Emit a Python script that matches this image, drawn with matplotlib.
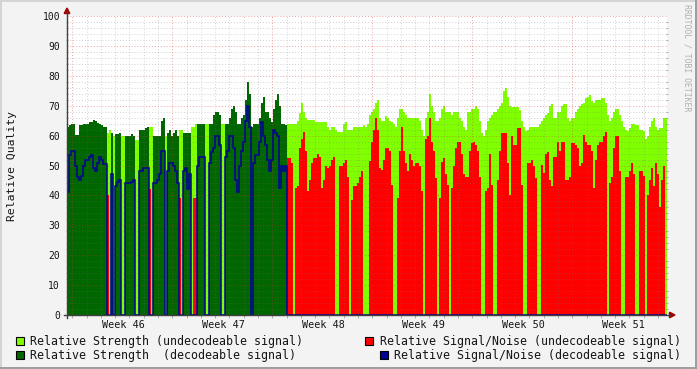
import numpy as np
import matplotlib.pyplot as plt
from matplotlib.patches import Rectangle, Polygon
from matplotlib.lines import Line2D

W, H = 697, 369
dpi = 100
mono = 'DejaVu Sans Mono'

# one sample every 2 px of the rrd graph = 0.14 day
step = 0.14
week_start = 0.37          # first week boundary, days after first sample
weeks = ['Week 46', 'Week 47', 'Week 48', 'Week 49', 'Week 50', 'Week 51']

strength = [
    63, 63.6, 64, 64, 60.3, 60.3, 63.6, 63.6, 64, 64,
    64, 64.5, 64.7, 65.3, 65, 64.2, 64, 63.5, 63, 63,
    61, 62, 61, 60, 60.5, 60.5, 61, 59.7, 59.7, 60,
    60, 60, 60.5, 60, 58.6, 58.6, 62, 62, 62, 62.5,
    63, 63, 63, 60, 60, 60, 60, 65, 66, 60,
    61, 62, 60, 61, 62, 60, 62, 62, 61, 61,
    61, 61, 63, 63, 64, 64, 64, 64, 64, 64,
    64, 64, 64, 67, 68, 68, 67, 64, 64, 64,
    64, 66, 69, 70, 68, 64, 64, 66, 67, 72,
    78, 74, 63, 64, 64, 64, 66, 71, 73, 68,
    68, 66, 64.7, 69, 72, 74, 70, 64, 64, 63.6,
    64, 64, 64, 64, 64, 65, 67.5, 70.8, 68, 66,
    65.3, 65.3, 65.3, 65.3, 64.7, 64.7, 64.7, 64.7, 64.7, 64.5,
    63, 62, 63, 63, 62, 61.3, 61.3, 61.3, 64, 64.7,
    62, 62, 62, 63, 63, 63, 63, 63, 63.5, 63,
    64, 67, 68, 69, 71, 72, 66, 65, 65, 66.5,
    66, 65, 64.5, 64, 63, 66, 69, 69, 68, 67,
    66, 66, 66, 66, 66, 66, 65, 62, 60, 66,
    68, 74, 70, 68, 65, 65, 66, 69, 70, 68,
    68, 68, 67, 68, 68, 68, 66, 65, 63, 62,
    68, 68, 69, 69, 70, 69, 65, 61, 60, 62,
    65, 66, 67, 68, 68, 69, 70, 71, 75, 76,
    73, 70, 69.5, 69.5, 69.5, 69.5, 68.5, 65, 63, 61.5,
    62, 63, 63, 63, 63, 63, 64, 65, 66, 67,
    67.5, 70, 70.5, 66, 66, 68, 68, 70, 70.5, 70.5,
    66, 65, 66, 66, 68, 69, 70, 70.5, 71, 72.5,
    73, 73.5, 71.5, 71, 72, 72, 72, 72.5, 72.5, 71,
    67, 65, 66, 68, 69, 69, 67, 65, 63, 62,
    61.5, 62.5, 64, 64, 63.5, 63.5, 62, 62, 61.5, 59,
    60, 63, 65, 66, 63, 62, 62.5, 62.5, 66, 66,
]

snr = [
    41, 53.5, 55, 55, 50, 46, 45, 46.5, 50, 52,
    52, 53, 53.5, 49, 48, 51, 53, 52, 50.5, 50.5,
    40, 0, 47, 0, 43, 44.5, 45, 0, 0, 44,
    44, 44, 44.5, 45, 0, 0, 48, 48, 49, 49,
    49, 42, 0, 44, 44, 45, 47, 55, 55, 0,
    48, 51, 51, 50, 48, 44, 39, 0, 48, 49,
    42, 47, 0, 39, 39, 50, 53, 53, 53, 0,
    0, 51, 54.5, 56, 59.7, 60, 57, 0, 0, 53,
    55, 59.7, 60, 56, 45, 41, 50, 55, 58, 65,
    70, 63, 0, 50.7, 53.5, 53.5, 58, 64.7, 60, 57,
    52, 48, 52, 62, 61, 60, 42.5, 50, 48, 50,
    52.5, 52.5, 51, 0, 42.5, 43, 56, 59, 61.3, 55,
    41.5, 45, 50.8, 52.5, 52.5, 54, 53, 42.5, 45, 50,
    49, 50, 52, 53, 0, 0, 50, 50, 51, 52,
    46, 0, 38.5, 43, 43, 44, 46, 48, 0, 0,
    0, 51.5, 58, 62, 66, 62, 49, 48.6, 52, 55.8,
    55.8, 55, 43.5, 0, 0, 39, 55, 63, 55, 51,
    48, 54, 52, 50, 51, 51, 50, 41.5, 0, 59,
    59.7, 66, 58, 54.7, 45.7, 0, 39, 51.3, 52.5, 47,
    43.5, 0, 42.5, 50, 55.8, 58, 58, 54, 47, 46,
    46, 55, 57.5, 58, 57, 55, 46, 0, 0, 41.5,
    42.5, 54, 43.5, 0, 0, 45, 55, 60.8, 61, 61,
    51, 40, 60, 57, 57, 62.5, 62.5, 43.5, 0, 0,
    50.8, 51, 52, 50, 45.7, 0, 0, 50.3, 47.5, 54,
    54.5, 45, 43, 53, 53, 58, 55, 58, 58, 45,
    45, 46, 57.5, 57.5, 57, 56, 50, 51, 60.3, 58,
    57, 57, 55, 42.5, 52, 57, 58, 58, 60, 61.3,
    0, 44, 46, 56, 59.7, 59.7, 48, 0, 0, 46.3,
    46.3, 48, 50.8, 47, 0, 0, 48, 48, 46.5, 0,
    40, 45, 49, 43, 51, 47, 36, 45, 50, 0,
]

# 1 = signal decodeable for that sample
decoded = [
    1, 1, 1, 1, 1, 1, 1, 1, 1, 1, 1, 1, 1, 1, 1, 1, 1, 1, 1, 1, 0, 0, 1, 0, 1,
    1, 1, 0, 0, 1, 1, 1, 1, 1, 0, 0, 1, 1, 1, 1, 1, 0, 0, 1, 1, 1, 1, 1, 1, 0,
    1, 1, 1, 1, 1, 1, 0, 0, 1, 1, 1, 1, 0, 0, 0, 1, 1, 1, 1, 0, 0, 1, 1, 1, 1,
    1, 1, 0, 0, 1, 1, 1, 1, 1, 1, 1, 1, 1, 1, 1, 1, 1, 1, 1, 1, 1, 1, 1, 1, 1,
    1, 1, 1, 1, 1, 1, 1, 1, 1, 1, 0, 0, 0, 0, 0, 0, 0, 0, 0, 0, 0, 0, 0, 0, 0,
    0, 0, 0, 0, 0, 0, 0, 0, 0, 0, 0, 0, 0, 0, 0, 0, 0, 0, 0, 0, 0, 0, 0, 0, 0,
] + [0] * 150

labels = ['Relative Strength (undecodeable signal)',
          'Relative Strength  (decodeable signal)',
          'Relative Signal/Noise (undecodeable signal)',
          'Relative Signal/Noise (decodeable signal)']

lime, dkgreen, red, blue = '#80ff00', '#006600', '#ff0000', '#000099'


def fx(x):
    return x / W


def fy(y):
    return 1 - y / H


fig = plt.figure(figsize=(W / dpi, H / dpi), dpi=dpi, facecolor='#f3f3f3')
ax = fig.add_axes([fx(67), fy(315), 600 / W, 299 / H])
ax.set_facecolor('white')

s = np.array(strength)
n = np.array(snr)
d = np.array(decoded, dtype=bool)
edges = np.arange(len(s) + 1) * step

ax.stairs(np.where(d, 0, s), edges, fill=True, color=lime, lw=0, zorder=1)
ax.stairs(np.where(d, 0, n), edges, fill=True, color=red, lw=0, zorder=2)
ax.stairs(np.where(d, s, 0), edges, fill=True, color=dkgreen, lw=0, zorder=3)

# rrdtool style dotted grid, drawn over the areas
minor_c = (0.45, 0.45, 0.45, 0.32)
major_c = (0.85, 0.2, 0.2, 0.45)
for v in range(2, 101, 2):
    ax.axhline(v, color=major_c if v % 10 == 0 else minor_c,
               ls=(0, (1, 2)), lw=0.7, zorder=4)
days = week_start + np.arange(0, 42)
for k, x in enumerate(days):
    ax.axvline(x, color=major_c if k % 7 == 0 else minor_c,
               ls=(0, (1, 2)), lw=0.7, zorder=4)

ax.stairs(np.where(d, n, 0), edges, baseline=None, color=blue, lw=1.1,
          zorder=5, clip_on=False)

ax.set_xlim(0, len(s) * step)
ax.set_ylim(0, 100)
for sp in ax.spines.values():
    sp.set_visible(False)

ax.set_yticks(range(0, 101, 10))
ax.set_yticks(range(0, 101, 2), minor=True)
ax.tick_params(axis='y', which='major', length=0, pad=5, labelsize=7,
               labelfontfamily=mono, labelcolor='#151515')
ax.tick_params(axis='y', which='minor', left=True, right=True, length=2,
               width=0.6, color='#a0a0a0', direction='inout')
ax.set_xticks([week_start + 3.55 + 7 * k for k in range(len(weeks))], weeks)
ax.set_xticks(days, minor=True)
ax.tick_params(axis='x', which='major', length=0, pad=3.5, labelsize=7.3,
               labelfontfamily=mono, labelcolor='#151515')
ax.tick_params(axis='x', which='minor', length=2, width=0.6, color='#a0a0a0')

# axis lines and arrows
axis_c, arrow_c = '#404040', '#a00000'
fig.add_artist(Line2D([fx(67), fx(67)], [fy(318), fy(11)], color=axis_c, lw=1))
fig.add_artist(Line2D([fx(64), fx(670)], [fy(315), fy(315)], color=axis_c, lw=1))
fig.add_artist(Polygon([(fx(67), fy(8)), (fx(64.2), fy(13.5)), (fx(69.8), fy(13.5))],
                       closed=True, color=arrow_c, transform=fig.transFigure))
fig.add_artist(Polygon([(fx(675), fy(315)), (fx(669.5), fy(312.2)), (fx(669.5), fy(317.8))],
                       closed=True, color=arrow_c, transform=fig.transFigure))

fig.text(fx(12), fy(166), 'Relative Quality', rotation=90, ha='center',
         va='center', fontsize=8.2, family=mono, color='#151515')
fig.text(fx(687.5), fy(4), 'RRDTOOL / TOBI OETIKER', rotation=270, ha='center',
         va='top', fontsize=5.9, family=mono, color='#b0b0b0')

# legend, laid out like rrdtool's
legend_pos = [(15.5, 341), (15.5, 355), (365, 341), (379.5, 355)]
for (lx, ly), lab, c in zip(legend_pos, labels, [lime, dkgreen, red, blue]):
    fig.add_artist(Rectangle((fx(lx), fy(ly + 4)), 8 / W, 8 / H, facecolor=c,
                             edgecolor='black', lw=0.8, transform=fig.transFigure))
    fig.text(fx(lx + 14.5), fy(ly), lab, ha='left', va='center', fontsize=8.35,
             family=mono, color='#151515')

# bevelled frame
fig.add_artist(Rectangle((0, fy(1.5)), 1, 1.5 / H, color='#d4d4d4', lw=0,
                         transform=fig.transFigure))
fig.add_artist(Rectangle((0, 0), 1.5 / W, 1, color='#d4d4d4', lw=0,
                         transform=fig.transFigure))
fig.add_artist(Rectangle((0, 0), 1, 2 / H, color='#9e9e9e', lw=0,
                         transform=fig.transFigure))
fig.add_artist(Rectangle((fx(695), 0), 2 / W, 1, color='#9e9e9e', lw=0,
                         transform=fig.transFigure))

fig.savefig('out.png', dpi=dpi, facecolor=fig.get_facecolor())
